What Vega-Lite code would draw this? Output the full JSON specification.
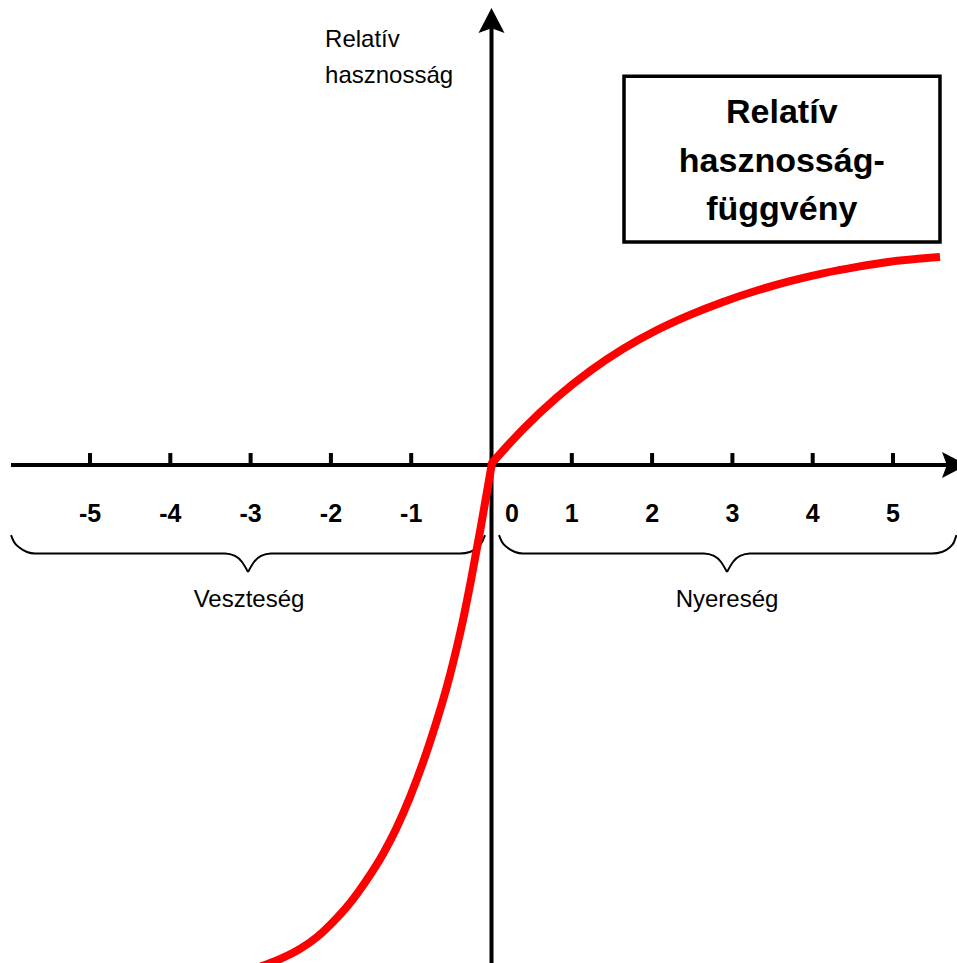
{
  "$schema": "https://vega.github.io/schema/vega-lite/v6.json",
  "width": 957,
  "height": 963,
  "autosize": {"type": "none"},
  "padding": 0,
  "background": "white",
  "config": {"view": {"stroke": null}},
  "datasets": {
    "axes": [
      {"x": -5.984, "y": 0, "x2": 5.672, "y2": 0},
      {"x": 0, "y": -6.202, "x2": 0, "y2": 5.442}
    ],
    "ticks": [
      {"x": -5}, {"x": -4}, {"x": -3}, {"x": -2}, {"x": -1},
      {"x": 1}, {"x": 2}, {"x": 3}, {"x": 4}, {"x": 5}
    ],
    "ticklabels": [
      {"x": -5, "t": "-5"}, {"x": -4, "t": "-4"}, {"x": -3, "t": "-3"}, {"x": -2, "t": "-2"}, {"x": -1, "t": "-1"},
      {"x": 0.255, "t": "0"}, {"x": 1, "t": "1"}, {"x": 2, "t": "2"}, {"x": 3, "t": "3"}, {"x": 4, "t": "4"}, {"x": 5, "t": "5"}
    ],
    "braces": [
      {"seg": "L1", "x": -5.984, "y": -0.872}, {"seg": "L1", "x": -5.946, "y": -0.959}, {"seg": "L1", "x": -5.872, "y": -1.034},
      {"seg": "L1", "x": -5.785, "y": -1.083}, {"seg": "L1", "x": -5.685, "y": -1.102}, {"seg": "L1", "x": -3.319, "y": -1.102},
      {"seg": "L1", "x": -3.194, "y": -1.133}, {"seg": "L1", "x": -3.107, "y": -1.208}, {"seg": "L1", "x": -3.032, "y": -1.333},
      {"seg": "L2", "x": -3.032, "y": -1.333}, {"seg": "L2", "x": -2.958, "y": -1.208}, {"seg": "L2", "x": -2.870, "y": -1.133},
      {"seg": "L2", "x": -2.746, "y": -1.102}, {"seg": "L2", "x": -0.392, "y": -1.102}, {"seg": "L2", "x": -0.268, "y": -1.083},
      {"seg": "L2", "x": -0.181, "y": -1.034}, {"seg": "L2", "x": -0.118, "y": -0.959}, {"seg": "L2", "x": -0.081, "y": -0.872},
      {"seg": "R1", "x": 0.093, "y": -0.872}, {"seg": "R1", "x": 0.131, "y": -0.959}, {"seg": "R1", "x": 0.205, "y": -1.034},
      {"seg": "R1", "x": 0.293, "y": -1.083}, {"seg": "R1", "x": 0.392, "y": -1.102}, {"seg": "R1", "x": 2.646, "y": -1.102},
      {"seg": "R1", "x": 2.771, "y": -1.133}, {"seg": "R1", "x": 2.858, "y": -1.208}, {"seg": "R1", "x": 2.933, "y": -1.333},
      {"seg": "R2", "x": 2.933, "y": -1.333}, {"seg": "R2", "x": 3.007, "y": -1.208}, {"seg": "R2", "x": 3.095, "y": -1.133},
      {"seg": "R2", "x": 3.219, "y": -1.102}, {"seg": "R2", "x": 5.486, "y": -1.102}, {"seg": "R2", "x": 5.610, "y": -1.083},
      {"seg": "R2", "x": 5.697, "y": -1.034}, {"seg": "R2", "x": 5.760, "y": -0.959}, {"seg": "R2", "x": 5.790, "y": -0.872}
    ],
    "loss": [
      {"x": -2.858, "y": -6.239}, {"x": -2.659, "y": -6.164}, {"x": -2.385, "y": -6.027}, {"x": -2.173, "y": -5.878},
      {"x": -1.974, "y": -5.691}, {"x": -1.762, "y": -5.455}, {"x": -1.563, "y": -5.181}, {"x": -1.351, "y": -4.844},
      {"x": -1.189, "y": -4.533}, {"x": -1.015, "y": -4.134}, {"x": -0.766, "y": -3.450}, {"x": -0.517, "y": -2.615},
      {"x": -0.355, "y": -1.930}, {"x": -0.255, "y": -1.432}, {"x": -0.131, "y": -0.760}, {"x": 0.006, "y": 0.025}
    ],
    "gain": [
      {"x": 0.006, "y": 0.025}, {"x": 0.392, "y": 0.446}, {"x": 0.816, "y": 0.844}, {"x": 1.227, "y": 1.171},
      {"x": 1.638, "y": 1.446}, {"x": 2.061, "y": 1.681}, {"x": 2.472, "y": 1.870}, {"x": 2.883, "y": 2.031},
      {"x": 3.306, "y": 2.173}, {"x": 3.717, "y": 2.290}, {"x": 4.128, "y": 2.387}, {"x": 4.552, "y": 2.468},
      {"x": 4.963, "y": 2.532}, {"x": 5.585, "y": 2.590}
    ]
  },
  "layer": [
    {
      "data": {"name": "axes"},
      "mark": {"type": "rule", "color": "black", "strokeWidth": 4},
      "encoding": {
        "x": {"field": "x", "type": "quantitative", "scale": {"domain": [-6.121, 5.797], "nice": false, "zero": false}, "axis": null},
        "y": {"field": "y", "type": "quantitative", "scale": {"domain": [-6.202, 5.791], "nice": false, "zero": false}, "axis": null},
        "x2": {"field": "x2"},
        "y2": {"field": "y2"}
      }
    },
    {
      "data": {"values": [{"x": 5.727, "y": 0}]},
      "mark": {"type": "point", "shape": "M1.2,0 L-0.72,-1 L-0.35,0 L-0.72,1 Z", "filled": true, "size": 676, "color": "black", "opacity": 1},
      "encoding": {
        "x": {"field": "x", "type": "quantitative"},
        "y": {"field": "y", "type": "quantitative"}
      }
    },
    {
      "data": {"values": [{"x": 0, "y": 5.497}]},
      "mark": {"type": "point", "shape": "M0,-1.2 L-1,0.72 L0,0.35 L1,0.72 Z", "filled": true, "size": 676, "color": "black", "opacity": 1},
      "encoding": {
        "x": {"field": "x", "type": "quantitative"},
        "y": {"field": "y", "type": "quantitative"}
      }
    },
    {
      "data": {"name": "ticks"},
      "mark": {"type": "rule", "color": "black", "strokeWidth": 4},
      "encoding": {
        "x": {"field": "x", "type": "quantitative"},
        "y": {"datum": 0, "type": "quantitative"},
        "y2": {"datum": 0.149}
      }
    },
    {
      "data": {"name": "ticklabels"},
      "mark": {"type": "text", "font": "Liberation Sans", "fontWeight": "bold", "fontSize": 25, "align": "center", "baseline": "alphabetic", "color": "black"},
      "encoding": {
        "x": {"field": "x", "type": "quantitative"},
        "y": {"datum": -0.706, "type": "quantitative"},
        "text": {"field": "t"}
      }
    },
    {
      "data": {"name": "braces"},
      "mark": {"type": "line", "color": "black", "strokeWidth": 2, "interpolate": "monotone"},
      "encoding": {
        "x": {"field": "x", "type": "quantitative"},
        "y": {"field": "y", "type": "quantitative"},
        "detail": {"field": "seg"}
      }
    },
    {
      "data": {"values": [{"x": -3.020, "y": -1.768, "t": "Veszteség"}, {"x": 2.933, "y": -1.768, "t": "Nyereség"}]},
      "mark": {"type": "text", "font": "Liberation Sans", "fontSize": 24, "align": "center", "baseline": "alphabetic", "color": "black"},
      "encoding": {
        "x": {"field": "x", "type": "quantitative"},
        "y": {"field": "y", "type": "quantitative"},
        "text": {"field": "t"}
      }
    },
    {
      "data": {"values": [{"x": -2.073, "y": 5.205, "t": "Relatív"}, {"x": -2.073, "y": 4.757, "t": "hasznosság"}]},
      "mark": {"type": "text", "font": "Liberation Sans", "fontSize": 24, "align": "left", "baseline": "alphabetic", "color": "black"},
      "encoding": {
        "x": {"field": "x", "type": "quantitative"},
        "y": {"field": "y", "type": "quantitative"},
        "text": {"field": "t"}
      }
    },
    {
      "data": {"values": [{"x": 1.650, "x2": 5.585, "y": 4.841, "y2": 2.777}]},
      "mark": {"type": "rect", "fill": "white", "stroke": "black", "strokeWidth": 3.5},
      "encoding": {
        "x": {"field": "x", "type": "quantitative"},
        "x2": {"field": "x2"},
        "y": {"field": "y", "type": "quantitative"},
        "y2": {"field": "y2"}
      }
    },
    {
      "data": {"values": [{"x": 3.615, "y": 4.259, "t": "Relatív"}, {"x": 3.615, "y": 3.649, "t": "hasznosság-"}, {"x": 3.615, "y": 3.051, "t": "függvény"}]},
      "mark": {"type": "text", "font": "Liberation Sans", "fontWeight": "bold", "fontSize": 34, "align": "center", "baseline": "alphabetic", "color": "black"},
      "encoding": {
        "x": {"field": "x", "type": "quantitative"},
        "y": {"field": "y", "type": "quantitative"},
        "text": {"field": "t"}
      }
    },
    {
      "data": {"name": "loss"},
      "mark": {"type": "line", "color": "#ff0000", "strokeWidth": 8, "interpolate": "monotone", "strokeCap": "round", "clip": true},
      "encoding": {
        "x": {"field": "x", "type": "quantitative"},
        "y": {"field": "y", "type": "quantitative"}
      }
    },
    {
      "data": {"name": "gain"},
      "mark": {"type": "line", "color": "#ff0000", "strokeWidth": 8, "interpolate": "monotone", "strokeCap": "butt", "clip": true},
      "encoding": {
        "x": {"field": "x", "type": "quantitative"},
        "y": {"field": "y", "type": "quantitative"}
      }
    }
  ]
}
